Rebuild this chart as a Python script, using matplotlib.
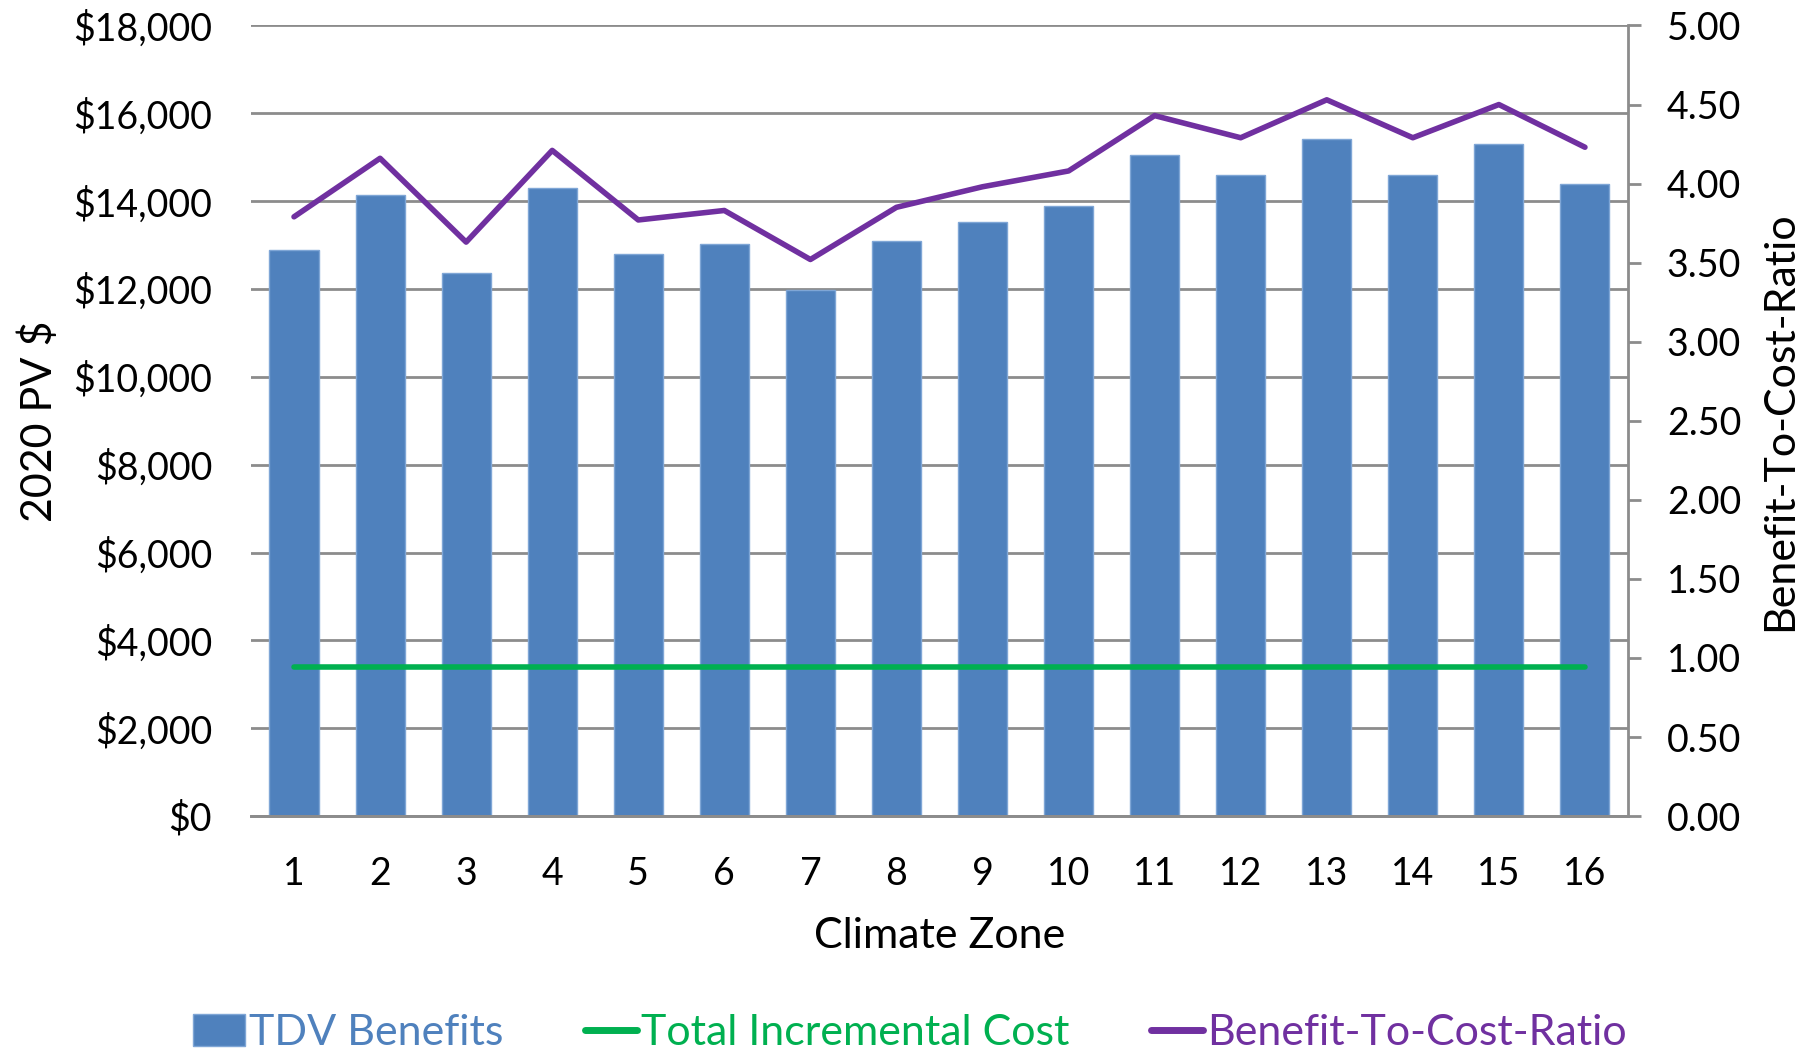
import matplotlib
matplotlib.use("Agg")
import matplotlib.pyplot as plt
from matplotlib.ticker import FuncFormatter, MultipleLocator

plt.rcParams['font.family'] = ['Lato', 'DejaVu Sans']

zones = [str(z) for z in range(1, 17)]
tdv_benefits = [12886, 14132, 12368, 14308, 12801, 13023, 11986, 13098,
                13532, 13897, 15062, 14589, 15411, 14589, 15313, 14384]
incremental_cost = [3390] * 16
bcr = [3.79, 4.16, 3.63, 4.21, 3.77, 3.83, 3.52, 3.85,
       3.98, 4.08, 4.43, 4.29, 4.53, 4.29, 4.50, 4.23]

blue = '#4F81BD'
green = '#00B050'
purple = '#7030A0'
grey = '#8C8C8C'

fig = plt.figure(figsize=(18.2, 10.53), dpi=100)
ax = fig.add_axes([0.1379, 0.225, 0.7566, 0.7508])
ax2 = ax.twinx()

x = range(len(zones))
bars = ax.bar(x, tdv_benefits, width=0.57, color=blue, edgecolor='#7FA6D6',
              linewidth=1, label='TDV Benefits', zorder=2)
cost_line, = ax.plot(x, incremental_cost, color=green, lw=4,
                     solid_capstyle='round', label='Total Incremental Cost', zorder=3)
ratio_line, = ax2.plot(x, bcr, color=purple, lw=4, solid_capstyle='round',
                       label='Benefit-To-Cost-Ratio', zorder=3)

ax.set_xlim(-0.5, len(zones) - 0.5)
ax.set_ylim(0, 18000)
ax.yaxis.set_major_locator(MultipleLocator(2000))
ax.yaxis.set_major_formatter(FuncFormatter(lambda v, p: '${:,.0f}'.format(v)))
ax2.set_ylim(0, 5)
ax2.yaxis.set_major_locator(MultipleLocator(0.5))
ax2.yaxis.set_major_formatter(FuncFormatter(lambda v, p: '{:.2f}'.format(v)))

ax.set_xticks(list(x))
ax.set_xticklabels(zones)
ax.grid(axis='y', color=grey, lw=2, zorder=0)
ax.set_axisbelow(True)

for a in (ax, ax2):
    for s in ('top', 'left', 'right'):
        a.spines[s].set_visible(False)
    a.spines['bottom'].set_color(grey)
    a.spines['bottom'].set_linewidth(2)
ax2.spines['right'].set_visible(True)
ax2.spines['right'].set_color(grey)
ax2.spines['right'].set_linewidth(2)

ax.tick_params(axis='x', length=0, pad=29, labelsize=27)
ax.tick_params(axis='y', length=0, pad=28, labelsize=27)
ax2.tick_params(axis='y', length=9, width=2, color=grey, pad=19, labelsize=27)

ax.set_xlabel('Climate Zone', fontsize=31, labelpad=18)
ax.set_ylabel('2020 PV $', fontsize=31, labelpad=10)
ax2.set_ylabel('Benefit-To-Cost-Ratio', fontsize=31, labelpad=14)

leg = fig.legend(handles=[bars, cost_line, ratio_line], loc='center',
                 bbox_to_anchor=(0.5, 0.019), ncol=3, frameon=False,
                 fontsize=31, handlelength=1.2, handleheight=0.75,
                 handletextpad=0.1, columnspacing=1.9)
for text, c in zip(leg.get_texts(), [blue, green, purple]):
    text.set_color(c)
for h in leg.legend_handles[1:]:
    h.set_linewidth(5)

fig.savefig('out.png', dpi=100)
